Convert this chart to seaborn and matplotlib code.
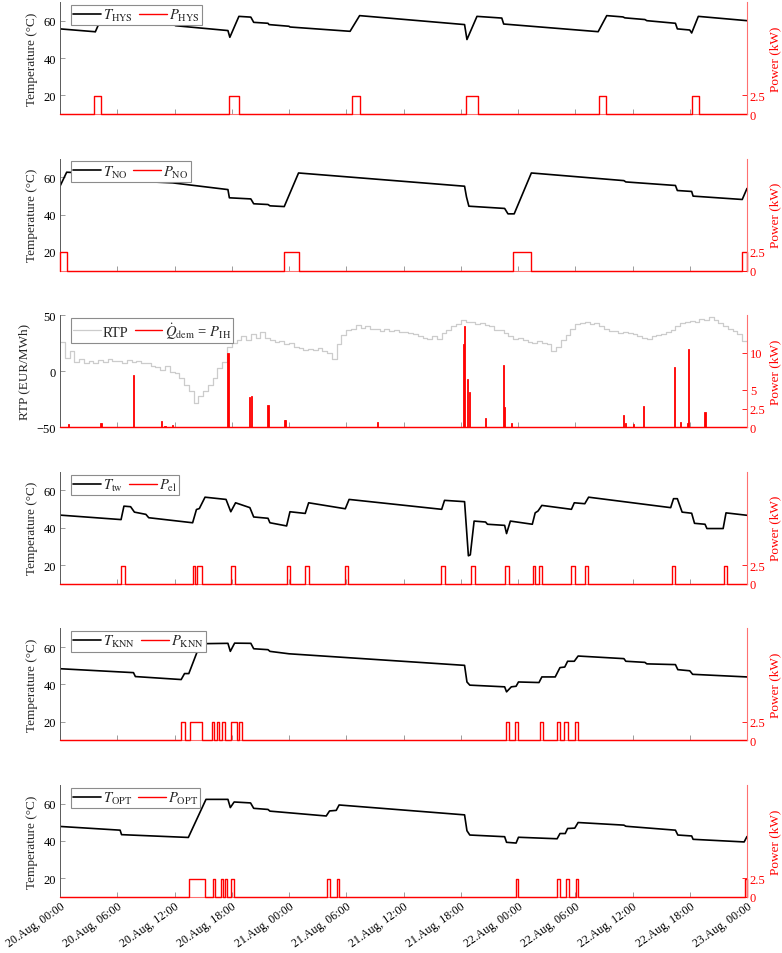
import numpy as np
import pandas as pd
import seaborn as sns
import matplotlib.pyplot as plt

sns.set_style("ticks")
plt.rcParams['font.family'] = ['Liberation Serif', 'DejaVu Serif']
plt.rcParams['mathtext.fontset'] = 'stix'
plt.rcParams['font.size'] = 9

RED = '#ff0000'

# ------------------------------------------------------------
# data (hours since 20.Aug 00:00)
# ------------------------------------------------------------
xtick_labels = ['20.Aug, 00:00', '20.Aug, 06:00', '20.Aug, 12:00', '20.Aug, 18:00',
                '21.Aug, 00:00', '21.Aug, 06:00', '21.Aug, 12:00', '21.Aug, 18:00',
                '22.Aug, 00:00', '22.Aug, 06:00', '22.Aug, 12:00', '22.Aug, 18:00',
                '23.Aug, 00:00']

# HYS
t_hys = [0, 3.6, 3.7, 4.3, 4.6, 6.3, 6.5, 12, 12.1, 17.6, 17.8, 18.75, 20.0, 20.3, 21.8, 21.9,
         24, 24.1, 30.4, 31.4, 42.4, 42.65, 43.7, 46.3, 46.5, 56.4, 57.3, 59, 59.2, 61.3, 61.5,
         64.5, 64.7, 66, 66.2, 66.9, 72]
T_hys = [55.6, 54.1, 54.0, 61.0, 61.8, 61.0, 59.6, 57.8, 57.3, 54.7, 51.1, 62.3, 61.9, 59.1, 58.6, 57.9,
         57.0, 56.6, 54.3, 62.7, 57.9, 49.9, 62.3, 61.4, 58.2, 54.1, 62.7, 62.0, 61.5, 60.6, 60.0,
         58.6, 55.6, 55.0, 53.4, 62.3, 60.0]
P_hys_on = [3.53, 17.7, 30.6, 42.6, 56.5, 66.2]
P_hys_off = [4.27, 18.75, 31.4, 43.8, 57.2, 67.0]

# NO
t_no = [0, 0.7, 1.2, 6.3, 6.5, 11.8, 17.6, 17.75, 20.0, 20.3, 21.8, 22.0, 23.5, 25.0, 42.4, 42.6,
        42.85, 46.6, 46.95, 47.6, 49.4, 59.1, 59.3, 64.5, 64.7, 66.2, 66.35, 71.5, 72]
T_no = [55.2, 62.7, 62.6, 60.6, 58.2, 57.0, 53.4, 49.0, 48.4, 45.8, 45.4, 44.7, 44.3, 62.3, 55.2, 49.5,
        44.5, 43.3, 40.4, 40.4, 62.3, 58.2, 57.5, 55.6, 52.9, 52.4, 49.9, 48.1, 54.0]
P_no_on = [0.0, 23.5, 47.5, 71.5]
P_no_off = [0.7, 25.0, 49.4, 72.0]

# RTP, half-hourly, EUR/MWh
rtp = [26, 12, 18, 8, 11, 7, 9, 7, 10, 8, 11, 9, 9, 7, 10, 8, 9, 7, 7, 5,
       4, 1, 5, -1, -2, -6, -12, -18, -28, -22, -18, -12, -6, 3, 8, 22, 25, 28, 31, 28,
       33, 30, 35, 30, 28, 26, 27, 24, 25, 22, 21, 19, 20, 19, 21, 18, 16, 11, 24, 32,
       37, 38, 41, 39, 40, 38, 38, 36, 38, 36, 37, 35, 35, 34, 33, 31, 30, 29, 31, 29,
       34, 37, 40, 42, 46, 44, 44, 42, 43, 41, 40, 37, 37, 34, 31, 29, 30, 28, 26, 25,
       27, 25, 24, 18, 22, 28, 32, 38, 42, 43, 44, 42, 43, 40, 38, 36, 36, 34, 35, 34,
       33, 31, 30, 29, 31, 32, 33, 35, 37, 40, 43, 44, 45, 44, 47, 46, 48, 46, 43, 40,
       38, 36, 33, 27]
# heater power spikes (hour, kW)
ih_hour = [0.87, 4.3, 7.7, 10.6, 11.0, 11.8, 17.6, 19.9, 20.1, 21.8, 23.5, 23.65, 33.3,
           42.3, 42.4, 42.7, 42.9, 44.6, 46.5, 46.6, 47.3, 59.05, 59.3, 60.1, 61.15,
           64.4, 65.0, 65.8, 65.9, 67.6]
ih_kw = [0.45, 0.55, 6.95, 0.8, 0.2, 0.3, 9.9, 4.0, 4.2, 3.0, 1.0, 0.9, 0.67,
         11.1, 13.5, 6.5, 4.7, 1.25, 8.3, 2.7, 0.6, 1.7, 0.55, 0.45, 2.9,
         8.1, 0.67, 0.5, 10.5, 2.0]

# tw / el
t_tw = [0, 6.4, 6.7, 7.4, 7.8, 9.0, 9.3, 13.9, 14.3, 14.6, 15.2, 17.4, 17.9, 18.4, 19.9, 20.3,
        21.8, 22.0, 23.75, 24.1, 25.7, 26.06, 29.9, 30.3, 40.0, 40.3, 42.4, 42.8, 43.0, 43.4,
        44.6, 44.8, 46.6, 46.8, 47.2, 49.5, 49.8, 50.1, 50.5, 53.6, 53.9, 55.0, 55.4, 64.0,
        64.3, 64.7, 65.2, 66.2, 66.5, 67.6, 67.8, 69.5, 69.8, 72]
T_tw = [46.8, 44.4, 51.6, 51.3, 48.4, 47.2, 45.4, 42.7, 49.8, 50.3, 56.4, 55.2, 48.6, 53.4, 50.8, 45.8,
        45.1, 42.7, 41.0, 48.6, 47.7, 53.4, 50.2, 55.2, 49.9, 54.7, 54.0, 25.0, 25.5, 43.6,
        43.1, 41.9, 41.3, 36.9, 43.6, 41.9, 48.0, 49.0, 52.0, 49.9, 53.4, 52.9, 56.4, 50.8,
        55.6, 55.6, 48.4, 47.8, 42.4, 41.9, 39.6, 39.6, 48.0, 46.7]
P_el_on = [6.43, 13.94, 14.38, 17.96, 23.75, 25.7, 29.9, 39.95, 43.04, 46.67, 49.52, 50.16,
           53.6, 55.07, 64.1, 69.55]
P_el_off = [6.82, 14.18, 14.92, 18.3, 24.1, 26.06, 30.2, 40.3, 43.53, 47.07, 49.8, 50.5,
            53.94, 55.3, 64.44, 69.9]

# KNN
t_knn = [0, 7.7, 7.9, 12.7, 13.05, 13.5, 14.7, 17.6, 17.85, 18.3, 20.0, 20.3, 21.8, 22.0, 24.0,
         42.4, 42.65, 42.95, 46.6, 46.8, 47.3, 47.8, 48.05, 50.2, 50.5, 51.9, 52.4, 52.9, 53.2,
         53.9, 54.3, 59.1, 59.3, 61.3, 61.5, 64.5, 64.75, 66.0, 66.3, 72]
T_knn = [48.4, 46.3, 44.2, 42.6, 45.8, 45.8, 61.8, 62.0, 57.7, 62.1, 62.0, 59.1, 58.6, 57.7, 56.4,
         50.2, 41.3, 39.6, 38.7, 36.0, 38.7, 39.0, 41.3, 41.0, 44.0, 44.0, 49.0, 49.3, 52.4,
         52.4, 55.2, 53.8, 52.4, 51.8, 51.0, 50.6, 47.9, 47.3, 45.4, 44.0]
P_knn_on = [12.7, 13.6, 15.9, 16.5, 16.98, 17.96, 18.75, 46.7, 47.7, 50.26, 52.07, 52.86, 53.94]
P_knn_off = [13.05, 14.9, 16.15, 16.7, 17.28, 18.5, 19.1, 47.07, 48.05, 50.6, 52.37, 53.2, 54.28]

# OPT
t_opt = [0, 6.3, 6.45, 13.45, 15.3, 17.6, 17.85, 18.25, 19.97, 20.3, 21.8, 22.0, 27.9, 28.25,
         28.95, 29.25, 42.4, 42.65, 42.95, 46.6, 46.8, 47.8, 48.05, 52.1, 52.4, 52.95, 53.2,
         53.95, 54.3, 59.1, 59.3, 64.5, 64.75, 66.2, 66.35, 71.7, 72]
T_opt = [47.8, 45.8, 43.4, 41.9, 62.3, 62.3, 57.9, 60.9, 60.4, 57.5, 56.9, 56.0, 53.4, 56.1,
         56.4, 59.3, 54.0, 45.5, 43.2, 42.3, 39.3, 38.9, 42.0, 41.2, 44.0, 44.0, 46.7,
         46.9, 49.9, 48.5, 47.9, 45.8, 43.2, 42.7, 40.9, 39.5, 42.4]
P_opt_on = [13.55, 16.0, 16.9, 17.3, 17.96, 28.0, 29.0, 47.8, 52.07, 53.05, 54.04, 71.75]
P_opt_off = [15.17, 16.2, 17.1, 17.5, 18.26, 28.27, 29.25, 48.05, 52.37, 53.3, 54.33, 72.0]

P_ON = 2.45


def pulse_frame(on, off, level):
    t, v = [0.0], [0.0]
    for a, b in zip(on, off):
        t += [a, b]
        v += [level, 0.0]
    t.append(72.0)
    v.append(0.0)
    return pd.DataFrame({'t': t, 'p': v})


def style_axes(ax, ax2, right_ticks):
    ax.set_xlim(0, 72)
    ax.set_xticks(np.arange(0, 73, 6))
    ax.set_xticklabels([])
    ax.set_xlabel('')
    ax.tick_params(axis='both', direction='in', length=3.5, width=0.6, color='0.55',
                   labelcolor='black', labelsize=9, pad=3)
    ax2.set_ylim(0, 15)
    ax2.set_yticks(right_ticks)
    ax2.set_yticklabels([('%g' % v) for v in right_ticks])
    ax2.tick_params(axis='y', direction='in', length=3.5, width=0.6, colors=RED, labelsize=9, pad=2)
    ax2.set_ylabel('Power (kW)', color=RED, fontsize=9.5, labelpad=3)
    for a in (ax, ax2):
        a.spines['top'].set_visible(False)
    ax.spines['right'].set_visible(False)
    ax2.spines['left'].set_visible(False)
    ax2.spines['bottom'].set_visible(False)
    ax2.spines['right'].set_color('#ff7070')
    ax2.spines['right'].set_linewidth(0.8)
    ax.spines['left'].set_color('0.35')
    ax.spines['left'].set_linewidth(0.7)
    ax.spines['bottom'].set_color('#ff7070')


def add_legend(ax2, handles, labels):
    leg = ax2.legend(handles, labels, loc='upper left', bbox_to_anchor=(0.016, 0.975),
                     ncol=2, frameon=True, fancybox=False, edgecolor='0.55', framealpha=1,
                     handlelength=1.9, handletextpad=0.15, columnspacing=0.4,
                     borderpad=0.15, borderaxespad=0, fontsize=10.5)
    leg.get_frame().set_linewidth(0.8)


fig = plt.figure(figsize=(7.82, 9.54), dpi=100)

temp_panels = [
    (0, t_hys, T_hys, P_hys_on, P_hys_off, 'HYS', 'HYS'),
    (1, t_no, T_no, P_no_on, P_no_off, 'NO', 'NO'),
    (3, t_tw, T_tw, P_el_on, P_el_off, 'tw', 'el'),
    (4, t_knn, T_knn, P_knn_on, P_knn_off, 'KNN', 'KNN'),
    (5, t_opt, T_opt, P_opt_on, P_opt_off, 'OPT', 'OPT'),
]

axes = []
for i in range(6):
    bottom = 1 - (115 + 156.6 * i) / 954
    ax = fig.add_axes([60 / 782, bottom, 687 / 782, 112 / 954])
    axes.append(ax)

for i, t, T, on, off, tsub, psub in temp_panels:
    ax = axes[i]
    ax2 = ax.twinx()
    df_t = pd.DataFrame({'t': t, 'T': T})
    sns.lineplot(data=df_t, x='t', y='T', ax=ax, color='black', linewidth=1.2,
                 estimator=None, sort=False, legend=False)
    df_p = pulse_frame(on, off, P_ON)
    sns.lineplot(data=df_p, x='t', y='p', ax=ax2, color=RED, linewidth=1.0,
                 estimator=None, sort=False, legend=False, drawstyle='steps-post')
    ax2.lines[-1].set_clip_on(False)
    ax.set_ylim(10, 70)
    ax.set_yticks([20, 40, 60])
    ax.set_ylabel('Temperature (°C)', fontsize=9.5, labelpad=4)
    style_axes(ax, ax2, [0, 2.5])
    add_legend(ax2, [ax.lines[-1], ax2.lines[-1]],
               [r'$T_{\mathrm{%s}}$' % tsub, r'$P_{\mathrm{%s}}$' % psub])

# RTP panel
ax = axes[2]
ax2 = ax.twinx()
t_rtp = np.arange(0, 72.5, 0.5)
df_rtp = pd.DataFrame({'t': t_rtp, 'rtp': rtp + [rtp[-1]]})
sns.lineplot(data=df_rtp, x='t', y='rtp', ax=ax, color='#cccccc', linewidth=0.9,
             estimator=None, sort=False, legend=False, drawstyle='steps-post')
ax2.bar(ih_hour, ih_kw, width=0.13, color=RED, edgecolor=RED, linewidth=0.6)
sns.lineplot(x=[0, 72], y=[0, 0], ax=ax2, color=RED, linewidth=1.0, legend=False)
ax2.lines[-1].set_clip_on(False)
ax.set_ylim(-50, 50)
ax.set_yticks([-50, 0, 50])
ax.set_ylabel('RTP (EUR/MWh)', fontsize=9.5, labelpad=4)
style_axes(ax, ax2, [0, 2.5, 5, 10])
add_legend(ax2, [ax.lines[-1], ax2.lines[-1]],
           ['RTP', r'$\dot{Q}_{\mathrm{dem}}$ = $P_{\mathrm{IH}}$'])

# bottom tick labels
axes[5].set_xticklabels(xtick_labels, rotation=35, ha='right', rotation_mode='anchor',
                        fontsize=8.6)
axes[5].tick_params(axis='x', pad=2)

plt.savefig('out.png', dpi=100)
plt.close()
